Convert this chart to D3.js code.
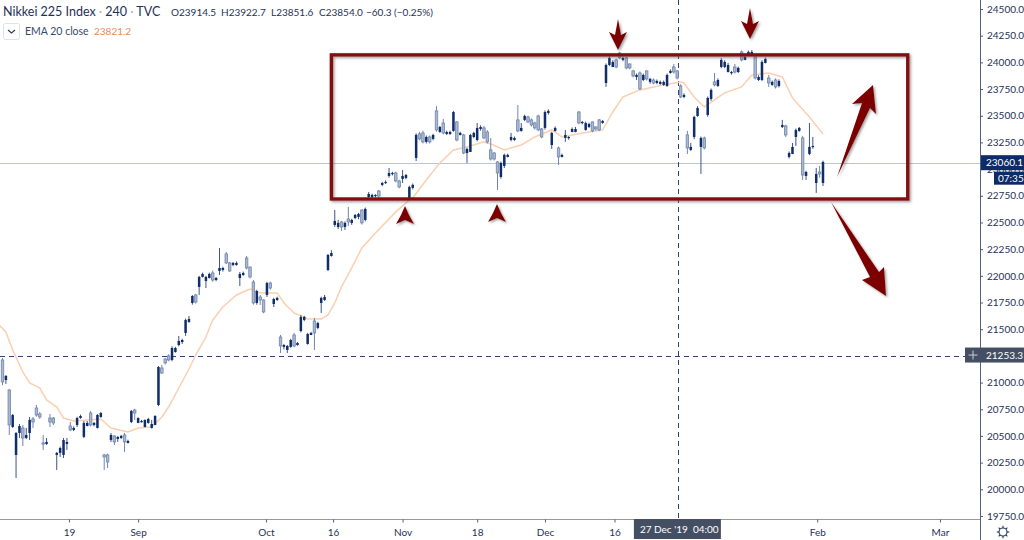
<!DOCTYPE html>
<html><head><meta charset="utf-8">
<script src="https://cdn.jsdelivr.net/npm/d3@7/dist/d3.min.js"></script>
<style>html,body{margin:0;padding:0;background:#fff;overflow:hidden}svg{display:block}text{font-family:Lato,"Open Sans",sans-serif}</style>
</head><body><svg id="c" width="1024" height="540"></svg>
<script>
// each row: open, high, low, close (consecutive 240 minute bars)
const augRows=[[21006,21230,20977,21212],[21062,21071,20987,21024],[20603,20940,20509,20931],[20696,20706,20575,20584],[20528,20537,20106,20322],[20593,20612,20481,20528],[20481,20603,20406,20575],[20509,20575,20470,20481],[20650,20678,20462,20528],[20631,20678,20575,20659],[20696,20790,20680,20762],[20678,20725,20660,20706],[20425,20509,20369,20435],[20444,20481,20415,20425],[20631,20706,20584,20668],[20622,20678,20603,20668],[20341,20350,20181,20322],[20387,20400,20303,20341],[20462,20480,20293,20322],[20444,20480,20369,20425],[20556,20631,20547,20593],[20575,20590,20545,20556],[20668,20680,20584,20603],[20687,20700,20660,20668],[20622,20640,20480,20491],[20622,20640,20590,20593],[20603,20734,20590,20715],[20622,20630,20590,20603],[20696,20705,20570,20575],[20715,20725,20670,20678],[20303,20331,20181,20322],[20256,20335,20200,20322],[20509,20528,20444,20462],[20444,20505,20415,20500],[20490,20500,20444,20472],[20500,20510,20470,20481],[20444,20528,20350,20509],[20453,20465,20430,20434],[20734,20743,20620,20631],[20715,20755,20650,20743]];
const sepRows=[[20668,20675,20620,20622],[20640,20650,20625,20631],[20650,20655,20580,20584],[20659,20670,20615,20622],[20612,20650,20570,20575],[20687,20695,20600,20603],[21146,21155,20780,20790],[21090,21165,21080,21137],[21184,21230,21170,21221],[21212,21265,21200,21250],[21324,21340,21200,21212],[21324,21335,21280,21287],[21390,21437,21340,21352],[21399,21410,21362,21380],[21587,21600,21437,21465],[21596,21624,21560,21568],[21811,21820,21730,21746],[21755,21830,21740,21821],[21990,22000,21821,21896],[22018,22030,21985,21990],[21990,22000,21886,21952],[22018,22030,21975,21980],[21961,22050,21945,22027],[21980,21990,21950,21961],[22074,22261,22008,22046],[22074,22085,22040,22055],[22121,22224,22110,22205],[22046,22130,22035,22121],[22121,22130,22090,22102],[22121,22135,22095,22102],[22018,22036,21905,21980],[22027,22040,22000,22008],[22074,22186,22060,22167],[21990,22085,21975,22083],[21746,21961,21730,21942],[21858,21870,21730,21746],[21774,21821,21727,21802],[21662,21780,21650,21774]];
const octRows=[[21933,21945,21802,21821],[21886,21945,21870,21933],[21783,21795,21708,21736],[21793,21805,21765,21774],[21343,21446,21277,21427],[21352,21362,21310,21334],[21343,21352,21277,21306],[21399,21410,21325,21334],[21343,21465,21330,21446],[21371,21380,21345,21352],[21615,21634,21470,21483],[21615,21625,21575,21587],[21455,21465,21355,21362],[21465,21475,21445,21446],[21465,21605,21306,21577],[21558,21570,21500,21512],[21793,21805,21652,21746],[21802,21821,21765,21774],[22196,22205,22045,22055],[22214,22240,22180,22186],[22514,22617,22458,22477],[22496,22524,22439,22458],[22458,22515,22420,22505],[22496,22510,22430,22458],[22505,22645,22467,22533],[22524,22535,22477,22496],[22570,22580,22530,22542],[22580,22590,22530,22552],[22496,22625,22480,22617],[22627,22640,22510,22524],[22767,22786,22730,22739],[22758,22770,22730,22739],[22758,22765,22735,22748],[22748,22805,22730,22795],[22870,22880,22840,22852],[22880,22895,22860,22870],[22964,23011,22920,22936],[22964,22975,22940,22955],[22889,22975,22875,22964],[22833,22900,22820,22889]];
const novRows=[[22936,22992,22870,22908],[22945,22955,22905,22917],[22833,22845,22710,22730],[22852,22865,22810,22824],[23320,23335,23076,23105],[23283,23350,23270,23330],[23255,23360,23240,23339],[23301,23315,23240,23255],[23255,23315,23240,23301],[23320,23330,23270,23283],[23367,23590,23350,23545],[23395,23405,23340,23348],[23339,23470,23325,23432],[23348,23360,23320,23329],[23348,23360,23320,23329],[23535,23545,23350,23358],[23273,23450,23260,23442],[23339,23350,23315,23320],[23151,23330,23140,23320],[23189,23200,23058,23151],[23320,23330,23160,23161],[23339,23350,23290,23301],[23386,23432,23260,23273],[23395,23410,23360,23376],[23292,23405,23280,23386],[23255,23365,23240,23348],[23095,23292,23080,23180],[23095,23160,23080,23151],[22964,23075,22805,23067],[23058,23070,22910,22926],[23133,23145,23010,23030],[23133,23145,23110,23114],[23301,23339,23260,23273],[23292,23305,23265,23273],[23358,23601,23345,23461],[23386,23432,23350,23358],[23498,23510,23450,23461],[23442,23500,23430,23489],[23414,23475,23400,23461],[23386,23445,23370,23432],[23367,23510,23355,23498],[23301,23385,23290,23376]];
const decRows=[[23535,23550,23370,23386],[23545,23560,23510,23526],[23339,23350,23189,23226],[23386,23400,23350,23358],[23114,23212,23039,23198],[23133,23145,23110,23114],[23320,23367,23255,23292],[23301,23310,23275,23292],[23376,23390,23345,23348],[23376,23395,23345,23348],[23432,23545,23420,23535],[23442,23450,23420,23432],[23432,23445,23360,23367],[23423,23435,23385,23395],[23358,23445,23345,23442],[23376,23400,23360,23395],[23367,23470,23355,23461],[23451,23460,23425,23432],[23976,23990,23770,23807],[24042,24055,23965,23976],[24004,24020,23955,23957],[23957,24035,23945,24023],[24042,24098,24030,24088],[24042,24055,24010,24023],[23948,24055,23935,24042],[23948,23990,23935,23985],[23873,23930,23860,23920],[23882,23895,23835,23863],[23751,23915,23740,23901],[23882,23895,23825,23835],[23845,23925,23830,23920],[23845,23855,23800,23817],[23807,23850,23795,23835],[23826,23840,23795,23807],[23817,23830,23790,23798],[23817,23830,23780,23789],[23882,23895,23770,23779],[23920,23935,23895,23901],[23910,23985,23895,23957],[23854,23930,23840,23920],[23676,23795,23665,23779]];
const janRows=[[23695,23710,23665,23676],[23198,23358,23142,23320],[23208,23245,23170,23180],[23489,23500,23280,23301],[23573,23590,23490,23498],[23292,23305,22955,23208],[23198,23305,23185,23292],[23667,23680,23490,23507],[23742,23755,23640,23657],[23789,23901,23775,23817],[23835,23850,23770,23779],[24023,24040,23945,23957],[24004,24020,23945,23957],[23976,23995,23905,23910],[23910,23920,23885,23901],[23910,23985,23895,23957],[23948,23960,23900,23910],[24023,24112,24010,24098],[24051,24065,24020,24023],[24098,24110,24060,24070],[24098,24115,24060,24070],[23854,24065,23840,24051],[23863,23880,23825,23835],[24004,24020,23825,23835],[24032,24045,23990,23995],[23807,23882,23770,23854],[23817,23830,23780,23789],[23770,23850,23755,23835],[23826,23840,23765,23779],[23414,23461,23385,23395],[23320,23415,23300,23405],[23151,23165,23100,23114],[23208,23245,23140,23142],[23367,23380,23217,23301],[23386,23395,23350,23358],[22945,23311,22898,23292],[22973,22985,22898,22936],[23208,23432,23130,23142],[23217,23301,23190,23208],[22955,23011,22777,22870],[22955,23030,22920,22973],[23067,23080,22842,22870]];
const emaBars=[-1,1,3,6,8,11,13,16,18,21,25,29,32,37,40,44,47,49,55,57,60,62,65,69,73,76,81,83,86,90,94,96,98,100,103,106,110,116,119,121,125,129,133,137,142,144,148,153,157,162,165,171,177,180,183,188,195,200,201,204,207,213,218,221,226,230,233,238,242];
const emaValues=[21540,21474,21306,21099,20996,20949,20837,20771,20668,20640,20650,20659,20575,20537,20575,20584,20678,20771,21127,21259,21427,21587,21708,21821,21877,21840,21840,21746,21652,21596,21596,21634,21746,21896,22074,22261,22402,22599,22683,22730,22898,23058,23180,23208,23255,23236,23180,23226,23301,23367,23301,23339,23367,23535,23676,23742,23789,23817,23807,23676,23582,23714,23770,23882,23901,23863,23667,23489,23329];
const priceTicks=d3.range(19750,24501,250);
const timeTickBars=[19.6,40,77.7,97.5,118,140,160,180.5,240.3,276.5];
const timeTickLabels=["19","Sep","Oct","16","Nov","18","Dec","16","Feb","Mar"];
const titleParts=["Nikkei 225 Index","240","TVC"];
const ohlcLabels=["O23914.5","H23922.7","L23851.6","C23854.0","\u221260.3 (\u22120.25%)"];
const emaLabel="EMA 20 close", emaLast="23821.2";
const lastPrice=23060.1, cursorPrice=21253.3, cursorBar=199.2, countdown="07:35", cursorDate="27 Dec '19", cursorTime="04:00";
const boxBars=[97,267], boxPrices=[24070,22720];

const navy="#0f2d69", pale="#7186ad", ink="#1f3157";
const W=980,H=519;
const rows=[...augRows,...sepRows,...octRows,...novRows,...decRows,...janRows];
const x=d3.scaleLinear().domain([0,242]).range([2.5,823]);
const y=d3.scaleLinear().domain([19750,24500]).range([516,9]);
const svg=d3.select("#c");
const defs=svg.append("defs");
defs.append("clipPath").attr("id","plot").append("rect").attr("width",W).attr("height",H);
const f=defs.append("filter").attr("id","sh").attr("x","-10%").attr("y","-10%").attr("width","130%").attr("height","130%");
f.append("feDropShadow").attr("dx",1.5).attr("dy",1.5).attr("stdDeviation",1).attr("flood-color","#555").attr("flood-opacity",0.55);

const snap=v=>Math.round(v)+.5;
const plot=svg.append("g").attr("clip-path","url(#plot)");
plot.append("line").attr("x1",0).attr("x2",W).attr("y1",snap(y(lastPrice))).attr("y2",snap(y(lastPrice))).attr("stroke","#b9c6d8").attr("stroke-width",1);
plot.append("line").attr("x1",0).attr("x2",W).attr("y1",snap(y(cursorPrice))).attr("y2",snap(y(cursorPrice))).attr("stroke","#2f4470").attr("stroke-width",1).attr("stroke-dasharray","5 4");
plot.append("line").attr("x1",snap(x(cursorBar))).attr("x2",snap(x(cursorBar))).attr("y1",0).attr("y2",H).attr("stroke","#2f4470").attr("stroke-width",1).attr("stroke-dasharray","5 4");
// EMA
plot.append("path").attr("fill","none").attr("stroke","#fbcfb0").attr("stroke-width",1.5)
 .attr("d",d3.line().x(d=>x(d[0])).y(d=>y(d[1]))(d3.zip(emaBars,emaValues)));
// candles
const c=plot.append("g").selectAll("g").data(rows).join("g");
const dn=d=>d[3]<d[0];
c.append("line").attr("x1",(d,i)=>x(i)).attr("x2",(d,i)=>x(i)).attr("y1",d=>y(d[1])).attr("y2",d=>y(d[2])).attr("stroke",d=>dn(d)?"#3d5486":pale).attr("stroke-width",1);
c.append("rect").attr("x",(d,i)=>x(i)-1.25).attr("width",2.5)
 .attr("y",d=>y(Math.max(d[0],d[3]))).attr("height",d=>Math.max(1.2,Math.abs(y(d[0])-y(d[3]))))
 .attr("fill",d=>dn(d)?navy:"#aab8d0").attr("stroke",d=>dn(d)?"none":pale).attr("stroke-width",0.8);
// annotations
const ann=svg.append("g").attr("filter","url(#sh)");
ann.append("rect").attr("x",x(boxBars[0])).attr("y",y(boxPrices[0])).attr("width",x(boxBars[1])-x(boxBars[0])).attr("height",y(boxPrices[1])-y(boxPrices[0]))
 .attr("fill","none").attr("stroke","#860b0f").attr("stroke-width",3.4);
const red="#7d0000";
[[405,206],[497,204]].forEach(p=>ann.append("polygon").attr("fill",red).attr("points",[[0,0],[4,9],[9,18],[0,14],[-9,18],[-4,9]].map(q=>[p[0]+q[0],p[1]+q[1]].join(",")).join(" ")));
[[618,50],[750,39]].forEach(p=>ann.append("polygon").attr("fill",red).attr("points",[[0,0],[-9,-18],[-3,-15],[0,-31],[3,-15],[9,-18]].map(q=>[p[0]+q[0],p[1]+q[1]].join(",")).join(" ")));
ann.append("polygon").attr("fill",red).attr("points","837,177 862,103 852,104 873,85 876,114 870,108");
ann.append("polygon").attr("fill",red).attr("points","831,202 879,272 884,267 886,296 862,280 870,277");
// axes
svg.append("line").attr("x1",W+.5).attr("x2",W+.5).attr("y1",0).attr("y2",540).attr("stroke","#52627f");
svg.append("line").attr("x1",0).attr("x2",W).attr("y1",H+.5).attr("y2",H+.5).attr("stroke","#8d9ab2");
const ya=svg.append("g").attr("transform",`translate(${W},0)`).call(d3.axisRight(y).tickValues(priceTicks).tickFormat(d3.format(".1f")).tickSize(3).tickPadding(4));
ya.select(".domain").remove();
ya.selectAll("text").attr("fill",ink).style("font-size","10px");
ya.selectAll("line").attr("stroke","#52627f");
const xa=svg.append("g").attr("transform",`translate(0,${H+.5})`).call(d3.axisBottom(x).tickValues(timeTickBars).tickFormat((d,i)=>timeTickLabels[i]).tickSize(3).tickPadding(6));
xa.select(".domain").remove();
xa.selectAll("text").attr("fill",ink).style("font-size","10px");
xa.selectAll("line").attr("stroke","#52627f");
// price labels
const dark="#0d2b66", slate="#454f63";
const yl=y(lastPrice);
svg.append("rect").attr("x",W+1).attr("y",yl-7.5).attr("width",43).attr("height",15).attr("fill",dark);
svg.append("text").attr("x",986).attr("y",yl+3.5).attr("fill","#fff").style("font-size","10px").text(lastPrice.toFixed(1));
svg.append("rect").attr("x",994).attr("y",yl+9).attr("width",30).attr("height",13).attr("fill",dark);
svg.append("text").attr("x",998).attr("y",yl+19).attr("fill","#fff").style("font-size","10px").text(countdown);
const yc=y(cursorPrice);
svg.append("rect").attr("x",W+1).attr("y",yc-8).attr("width",43).attr("height",15).attr("fill",slate);
svg.append("text").attr("x",986).attr("y",yc+3.5).attr("fill","#fff").style("font-size","10px").text(cursorPrice.toFixed(1));
svg.append("rect").attr("x",965).attr("y",yc-8).attr("width",16).attr("height",15).attr("fill",slate);
svg.append("path").attr("d",`M968.5,${yc-.5}H977.5M973,${yc-5}V${yc+4}`).attr("stroke","#c9ced8");
// date label
const xc=x(cursorBar);
svg.append("rect").attr("x",xc-44).attr("y",H).attr("width",87).attr("height",20).attr("fill",slate);
svg.append("text").attr("x",xc-38).attr("y",H+14).attr("fill","#fff").style("font-size","10px").text(cursorDate);
svg.append("text").attr("x",xc+15).attr("y",H+14).attr("fill","#fff").style("font-size","10px").text(cursorTime);
// gear
const g=svg.append("g").attr("transform","translate(1003,532)");
g.append("circle").attr("r",4).attr("fill","none").attr("stroke","#26375c").attr("stroke-width",1.1);
d3.range(8).forEach(k=>{const a=k*Math.PI/4;g.append("line").attr("x1",4*Math.cos(a)).attr("y1",4*Math.sin(a)).attr("x2",6.2*Math.cos(a)).attr("y2",6.2*Math.sin(a)).attr("stroke","#26375c").attr("stroke-width",1.1);});
// legend
const titleEl=svg.append("text").attr("x",3).attr("y",16).attr("fill",ink).style("font-size","12.5px");
titleParts.forEach((t,i)=>{ if(i) titleEl.append("tspan").attr("fill","#a9b3c4").text(" \u00b7 "); titleEl.append("tspan").text(t); });
const ohlcX=[171,221,271,319,366];
ohlcLabels.forEach((t,i)=>svg.append("text").attr("x",ohlcX[i]).attr("y",16).attr("fill",ink).style("font-size","10px").text(t));
svg.append("rect").attr("x",3.5).attr("y",23.5).attr("width",16).attr("height",16).attr("rx",2).attr("fill","#fff").attr("stroke","#dde1e8");
svg.append("path").attr("d","M8,30 L11.5,33 L15,30").attr("fill","none").attr("stroke","#26375c").attr("stroke-width",1.1);
svg.append("text").attr("x",25).attr("y",35).attr("fill","#3a4a6b").style("font-size","10.5px").text(emaLabel);
svg.append("text").attr("x",94).attr("y",35).attr("fill","#e8895a").style("font-size","10px").text(emaLast);
</script></body></html>
